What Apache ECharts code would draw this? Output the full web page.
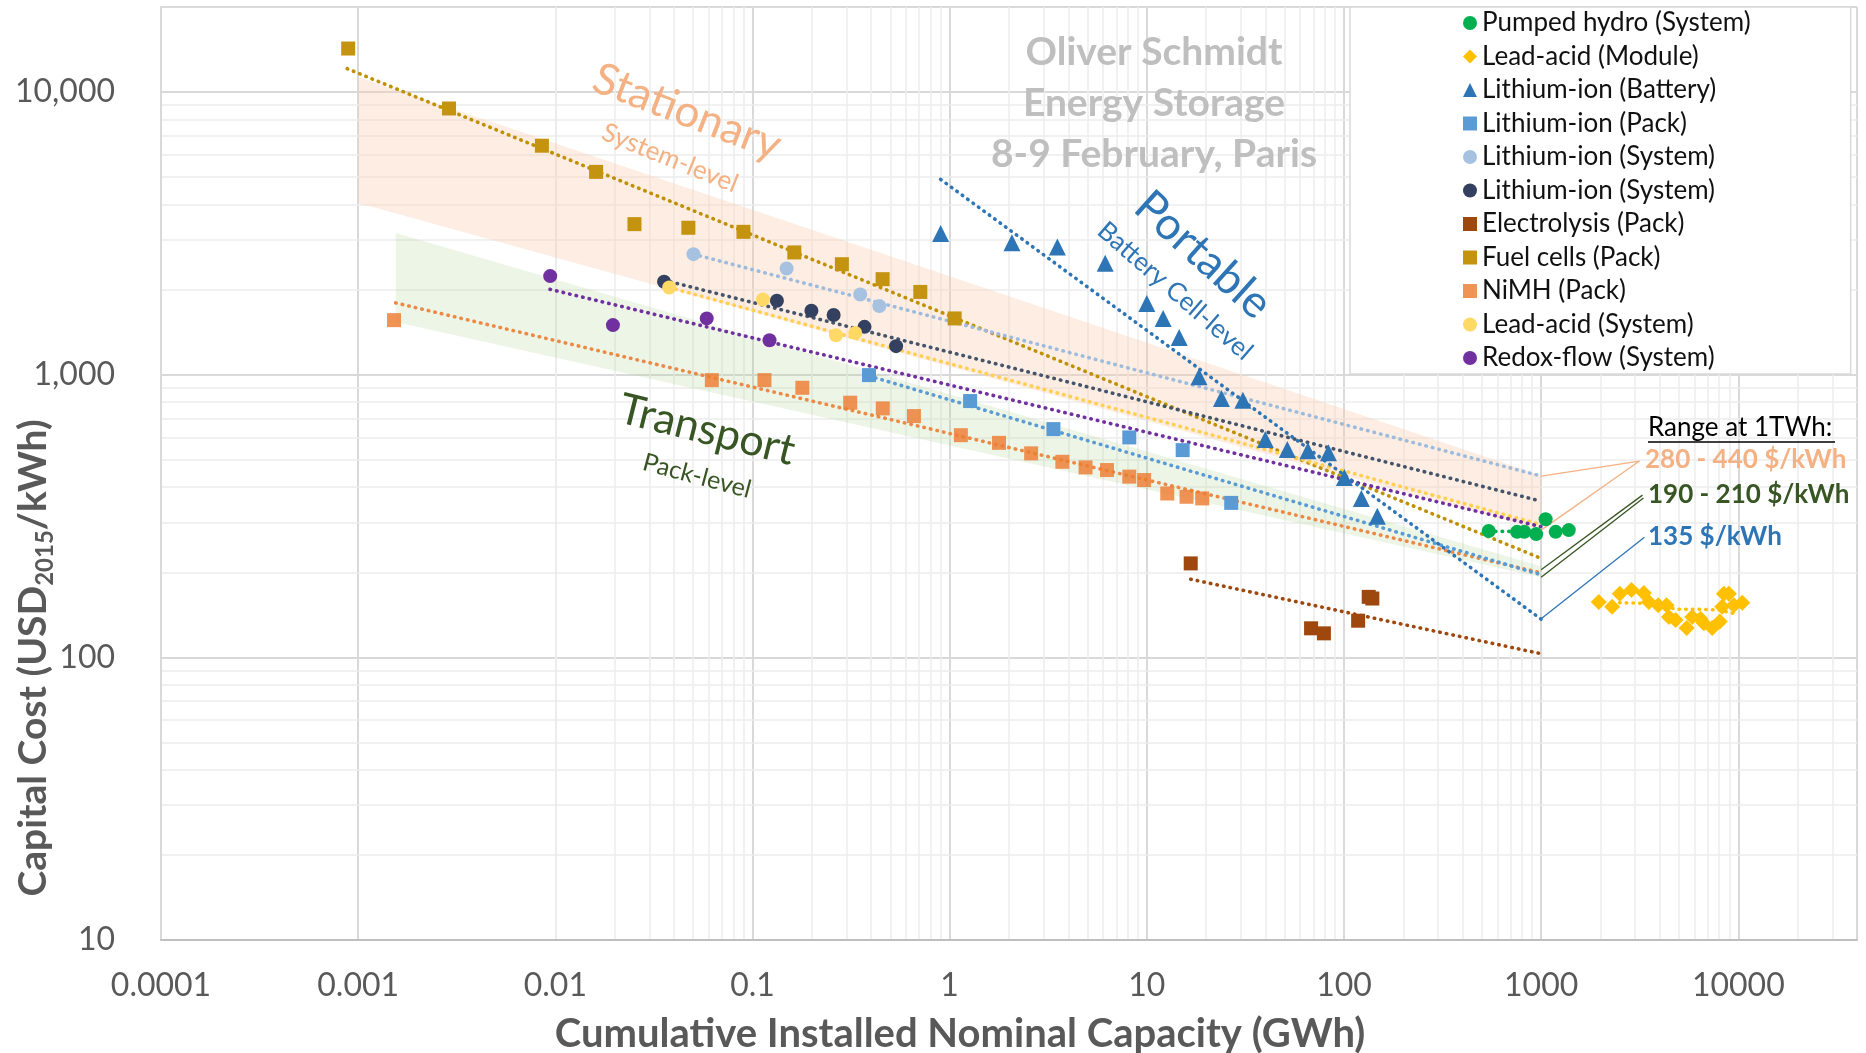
<!DOCTYPE html>
<html><head><meta charset="utf-8">
<script src="https://cdn.jsdelivr.net/npm/echarts@6/dist/echarts.min.js"></script>
<style>html,body{margin:0;padding:0;background:#fff}#c{width:1866px;height:1053px}</style>
</head><body><div id="c"></div>
<script>
// ---------------- DATA ----------------
const pumpedHydroX = [542, 755, 822, 944, 1054, 1185, 1381];
const pumpedHydroY = [280, 278, 278, 273, 308, 278, 282];

const leadModuleX = [1960, 2291, 2505, 2873, 3318, 3517, 3926, 4328, 4446, 4808, 5470, 5840, 6430, 6685, 7376, 8060, 8285, 8450, 8960, 9490, 10470];
const leadModuleY = [157, 151, 168, 173, 169, 157, 153, 153, 139, 135.5, 127, 139, 137, 132, 127, 134, 151, 168, 168, 153, 156];

const liBatteryX = [0.9, 2.07, 3.52, 6.15, 10.0, 12.1, 14.6, 18.4, 23.9, 30.7, 39.9, 51.6, 65.6, 83.4, 100.5, 122.5, 147.6];
const liBatteryY = [3160, 2930, 2830, 2480, 1786, 1580, 1355, 984, 824, 813, 590, 544, 538, 530, 433, 365, 316];

const liPackX = [0.39, 1.27, 3.36, 8.15, 15.2, 26.8];
const liPackY = [997, 807, 642, 600, 541, 352];

const liSystemLightX = [0.0502, 0.149, 0.352, 0.44];
const liSystemLightY = [2671, 2377, 1923, 1749];

const liSystemDarkX = [0.0356, 0.133, 0.199, 0.258, 0.37, 0.535];
const liSystemDarkY = [2132, 1826, 1683, 1626, 1477, 1262];

const electrolysisX = [16.7, 68.1, 79.1, 118, 133.5, 139.3];
const electrolysisY = [215, 126.7, 121.6, 134.8, 163.7, 161.5];

const fuelCellsX = [0.00089, 0.00289, 0.00855, 0.0161, 0.0252, 0.0473, 0.09, 0.163, 0.284, 0.457, 0.71, 1.06];
const fuelCellsY = [14260, 8750, 6460, 5220, 3410, 3311, 3203, 2708, 2460, 2178, 1963, 1582];

const nimhX = [0.00152, 0.0622, 0.115, 0.179, 0.313, 0.458, 0.659, 1.14, 1.78, 2.59, 3.73, 4.89, 6.28, 8.15, 9.69, 12.7, 15.9, 19.1];
const nimhY = [1560, 957, 957, 899, 796, 760, 714, 611, 574, 527, 492, 470, 460, 436, 424, 380, 370, 365];

const leadSystemX = [0.0378, 0.113, 0.265, 0.332];
const leadSystemY = [2036, 1846, 1380, 1406];

const redoxX = [0.00942, 0.0196, 0.0586, 0.122];
const redoxY = [2233, 1498, 1582, 1325];

// trend lines (endpoints)
const fuelCellsTrend = [[0.00088, 12100], [1000, 224]];
const liSystemLightTrend = [[0.0502, 2671], [1000, 438]];
const liSystemDarkTrend = [[0.0356, 2160], [1000, 357]];
const leadSystemTrend = [[0.0378, 2036], [1000, 295]];
const redoxTrend = [[0.0094, 2005], [1000, 290]];
const nimhTrend = [[0.00155, 1795], [1000, 199]];
const liPackTrend = [[0.39, 990], [1000, 196]];
const liBatteryTrend = [[0.9, 4910], [1000, 136.5]];
const electrolysisTrend = [[16.7, 189], [1000, 103]];
const pumpedHydroTrend = [[542, 279], [1000, 279]];
const leadModuleTrend = [[2500, 156], [3900, 155], [4800, 148], [6400, 148], [8000, 147], [9500, 143]];

// shaded ranges: [x0, x1, top0, top1, bottom0, bottom1]
const stationaryBand = [0.001, 1000, 11300, 440, 4050, 282];
const transportBand = [0.00155, 1000, 3170, 210, 1535, 192];

// leader lines from the 1 TWh values to the range labels
const leaderStationaryTop = [[1000, 438], [3154, 495]];
const leaderStationaryBottom = [[1000, 282], [3154, 495]];
const leaderTransportA = [[1000, 204], [3266, 375]];
const leaderTransportB = [[1000, 192], [3305, 366]];
const leaderPortable = [[1000, 137], [3342, 266]];

const xMin = 0.0001, xMax = 40000, yMin = 10, yMax = 20000;

// minor log grid positions (2..9 of every decade)
const minorX = [], minorY = [];
for (let e = -4; e <= 4; e++) for (let m = 2; m <= 9; m++) {
  const v = parseFloat((m * Math.pow(10, e)).toPrecision(3));
  if (v < xMax) minorX.push(v);
}
for (let e = 1; e <= 4; e++) for (let m = 2; m <= 9; m++) {
  const v = m * Math.pow(10, e);
  if (v < yMax) minorY.push(v);
}

// ---------------- CHART ----------------
const FONT = 'Lato';
const zip = (xs, ys) => xs.map((x, i) => [x, ys[i]]);

const scatterDefs = [
  { name: 'Pumped hydro (System)', xs: pumpedHydroX, ys: pumpedHydroY, symbol: 'circle', size: 14, color: '#00B050' },
  { name: 'Lead-acid (Module)', xs: leadModuleX, ys: leadModuleY, symbol: 'diamond', size: 16, color: '#FFC000' },
  { name: 'Lithium-ion (Battery)', xs: liBatteryX, ys: liBatteryY, symbol: 'triangle', size: 17, color: '#2E75B6' },
  { name: 'Lithium-ion (Pack)', xs: liPackX, ys: liPackY, symbol: 'rect', size: 14, color: '#5B9BD5' },
  { name: 'Lithium-ion (System)', xs: liSystemLightX, ys: liSystemLightY, symbol: 'circle', size: 14, color: '#A6C2E0' },
  { name: 'Lithium-ion (System) ', xs: liSystemDarkX, ys: liSystemDarkY, symbol: 'circle', size: 14, color: '#34405F' },
  { name: 'Electrolysis (Pack)', xs: electrolysisX, ys: electrolysisY, symbol: 'rect', size: 14, color: '#9E480E' },
  { name: 'Fuel cells (Pack)', xs: fuelCellsX, ys: fuelCellsY, symbol: 'rect', size: 14, color: '#C4930F' },
  { name: 'NiMH (Pack)', xs: nimhX, ys: nimhY, symbol: 'rect', size: 14, color: '#ED7D31', opacity: 0.82 },
  { name: 'Lead-acid (System)', xs: leadSystemX, ys: leadSystemY, symbol: 'circle', size: 14, color: '#FFD966' },
  { name: 'Redox-flow (System)', xs: redoxX, ys: redoxY, symbol: 'circle', size: 14, color: '#7030A0' }
];

const trendDefs = [
  { d: fuelCellsTrend, color: '#BF9000' },
  { d: liSystemLightTrend, color: '#9DBCDD' },
  { d: liSystemDarkTrend, color: '#44546A' },
  { d: leadSystemTrend, color: '#FFD050' },
  { d: redoxTrend, color: '#7030A0' },
  { d: nimhTrend, color: '#EC8A45' },
  { d: liPackTrend, color: '#5B9BD5' },
  { d: liBatteryTrend, color: '#2E75B6' },
  { d: electrolysisTrend, color: '#9E480E' },
  { d: pumpedHydroTrend, color: '#00B050' },
  { d: leadModuleTrend, color: '#FFC000' }
];

const leaderDefs = [
  { d: leaderStationaryTop, color: '#F4B183' },
  { d: leaderStationaryBottom, color: '#F4B183' },
  { d: leaderTransportA, color: '#375623' },
  { d: leaderTransportB, color: '#375623' },
  { d: leaderPortable, color: '#2E75B6' }
];

function bandSeries(vals, fill) {
  return {
    type: 'custom', silent: true, z: 1,
    renderItem: (params, api) => {
      const x0 = api.value(0), x1 = api.value(1);
      const pts = [api.coord([x0, api.value(2)]), api.coord([x1, api.value(3)]),
                   api.coord([x1, api.value(5)]), api.coord([x0, api.value(4)])];
      return { type: 'polygon', shape: { points: pts }, style: { fill: fill } };
    },
    encode: { x: [0, 1], y: [2, 3, 4, 5] },
    data: [vals]
  };
}

const series = [];
series.push({
  type: 'scatter', data: [], silent: true, z: 0, zlevel: 0,
  markLine: {
    silent: true, symbol: ['none', 'none'], animation: false, z: 0,
    label: { show: false },
    lineStyle: { color: '#EDEDED', width: 1.5, type: 'solid' },
    emphasis: { disabled: true },
    data: minorX.map(v => ({ xAxis: v })).concat(minorY.map(v => ({ yAxis: v })))
  }
});
series.push(bandSeries(stationaryBand, 'rgba(248,203,173,0.35)'));
series.push(bandSeries(transportBand, 'rgba(169,208,142,0.22)'));
trendDefs.forEach(t => series.push({
  type: 'line', data: t.d, symbol: 'none', silent: true, z: 2,
  lineStyle: { color: t.color, width: 3.6, type: [0.5, 6.2], cap: 'round' }
}));
leaderDefs.forEach(t => series.push({
  type: 'line', data: t.d, symbol: 'none', silent: true, z: 2,
  lineStyle: { color: t.color, width: 1.3 }
}));
scatterDefs.forEach(s => series.push({
  name: s.name, type: 'scatter', data: zip(s.xs, s.ys),
  symbol: s.symbol, symbolSize: s.size, z: 6,
  itemStyle: { color: s.color, opacity: s.opacity == null ? 1 : s.opacity }
}));

const deg = a => a * Math.PI / 180;
function txt(text, x, y, font, fill, rot, align) {
  return { type: 'text', x: x, y: y, rotation: rot ? deg(rot) : 0, z: 20, silent: true,
    style: { text: text, font: font, fill: fill, align: align || 'center', verticalAlign: 'middle' } };
}

const option = {
  animation: false,
  backgroundColor: '#ffffff',
  grid: { left: 161, right: 9, top: 7, bottom: 113, containLabel: false },
  xAxis: {
    type: 'log', logBase: 10, min: xMin, max: xMax, interval: 1,
    axisLine: { show: true, lineStyle: { color: '#BFBFBF', width: 2 } },
    axisTick: { show: false },
    splitLine: { show: true, lineStyle: { color: '#D9D9D9', width: 2 } },
    axisLabel: {
      fontFamily: FONT, fontSize: 32, color: '#595959', margin: 30, showMaxLabel: false,
      formatter: v => String(parseFloat(Number(v).toPrecision(6)))
    }
  },
  yAxis: {
    type: 'log', logBase: 10, min: yMin, max: yMax, interval: 1,
    axisLine: { show: true, lineStyle: { color: '#D9D9D9', width: 2 } },
    axisTick: { show: false },
    splitLine: { show: true, lineStyle: { color: '#D9D9D9', width: 2 } },
    axisLabel: {
      fontFamily: FONT, fontSize: 32, color: '#595959', margin: 46, showMaxLabel: false,
      formatter: v => String(Math.round(v)).replace(/\B(?=(\d{3})+(?!\d))/g, ',')
    }
  },
  legend: {
    orient: 'vertical', left: 1350, top: 7, align: 'left',
    data: scatterDefs.map(s => s.name),
    itemWidth: 14, itemHeight: 14, itemGap: 5.5,
    padding: [2, 100, 2, 113],
    backgroundColor: '#ffffff', borderColor: '#D9D9D9', borderWidth: 1.5,
    selectedMode: false, z: 10,
    textStyle: { fontFamily: FONT, fontSize: 26, color: '#111', lineHeight: 28 }
  },
  series: series,
  graphic: [
    txt('Stationary', 687, 112, '44px ' + FONT, '#F4B183', -21),
    txt('System-level', 670, 158, '26px ' + FONT, '#F4B183', -22),
    txt('Transport', 707, 430, '43px ' + FONT, '#375623', -14),
    txt('Pack-level', 697, 476, '25px ' + FONT, '#375623', -15),
    txt('Portable', 1203, 255, '45px ' + FONT, '#2E75B6', -42),
    txt('Battery Cell-level', 1175, 291, '26px ' + FONT, '#2E75B6', -41),
    txt('Oliver Schmidt', 1154, 52, 'bold 39px ' + FONT, '#BFBFBF'),
    txt('Energy Storage', 1154, 103, 'bold 39px ' + FONT, '#BFBFBF'),
    txt('8-9 February, Paris', 1154, 154, 'bold 39px ' + FONT, '#BFBFBF'),
    txt('Range at 1TWh:', 1648, 428, '26px ' + FONT, '#000000', 0, 'left'),
    { type: 'line', z: 20, silent: true, shape: { x1: 1648, y1: 442, x2: 1835, y2: 442 }, style: { stroke: '#000', lineWidth: 1.5 } },
    txt('280 - 440 $/kWh', 1645, 460, 'bold 26px ' + FONT, '#F4B183', 0, 'left'),
    txt('190 - 210 $/kWh', 1648, 495, 'bold 26px ' + FONT, '#375623', 0, 'left'),
    txt('135 $/kWh', 1648, 537, 'bold 26px ' + FONT, '#2E75B6', 0, 'left'),
    txt('Cumulative Installed Nominal Capacity (GWh)', 960, 1034, 'bold 40px ' + FONT, '#595959'),
    { type: 'text', x: 33, y: 658, rotation: Math.PI / 2, z: 20, silent: true,
      style: { text: '{a|Capital Cost (USD}{b|2015}{a|/kWh)}', align: 'center', verticalAlign: 'middle', fill: '#595959',
        rich: {
          a: { fontFamily: FONT, fontWeight: 'bold', fontSize: 39, lineHeight: 48, fill: '#595959', color: '#595959' },
          b: { fontFamily: FONT, fontWeight: 'bold', fontSize: 24, lineHeight: 26, verticalAlign: 'bottom', fill: '#595959', color: '#595959' }
        } } }
  ]
};

const chart = echarts.init(document.getElementById('c'), null, { renderer: 'canvas' });
chart.setOption(option);
</script></body></html>
